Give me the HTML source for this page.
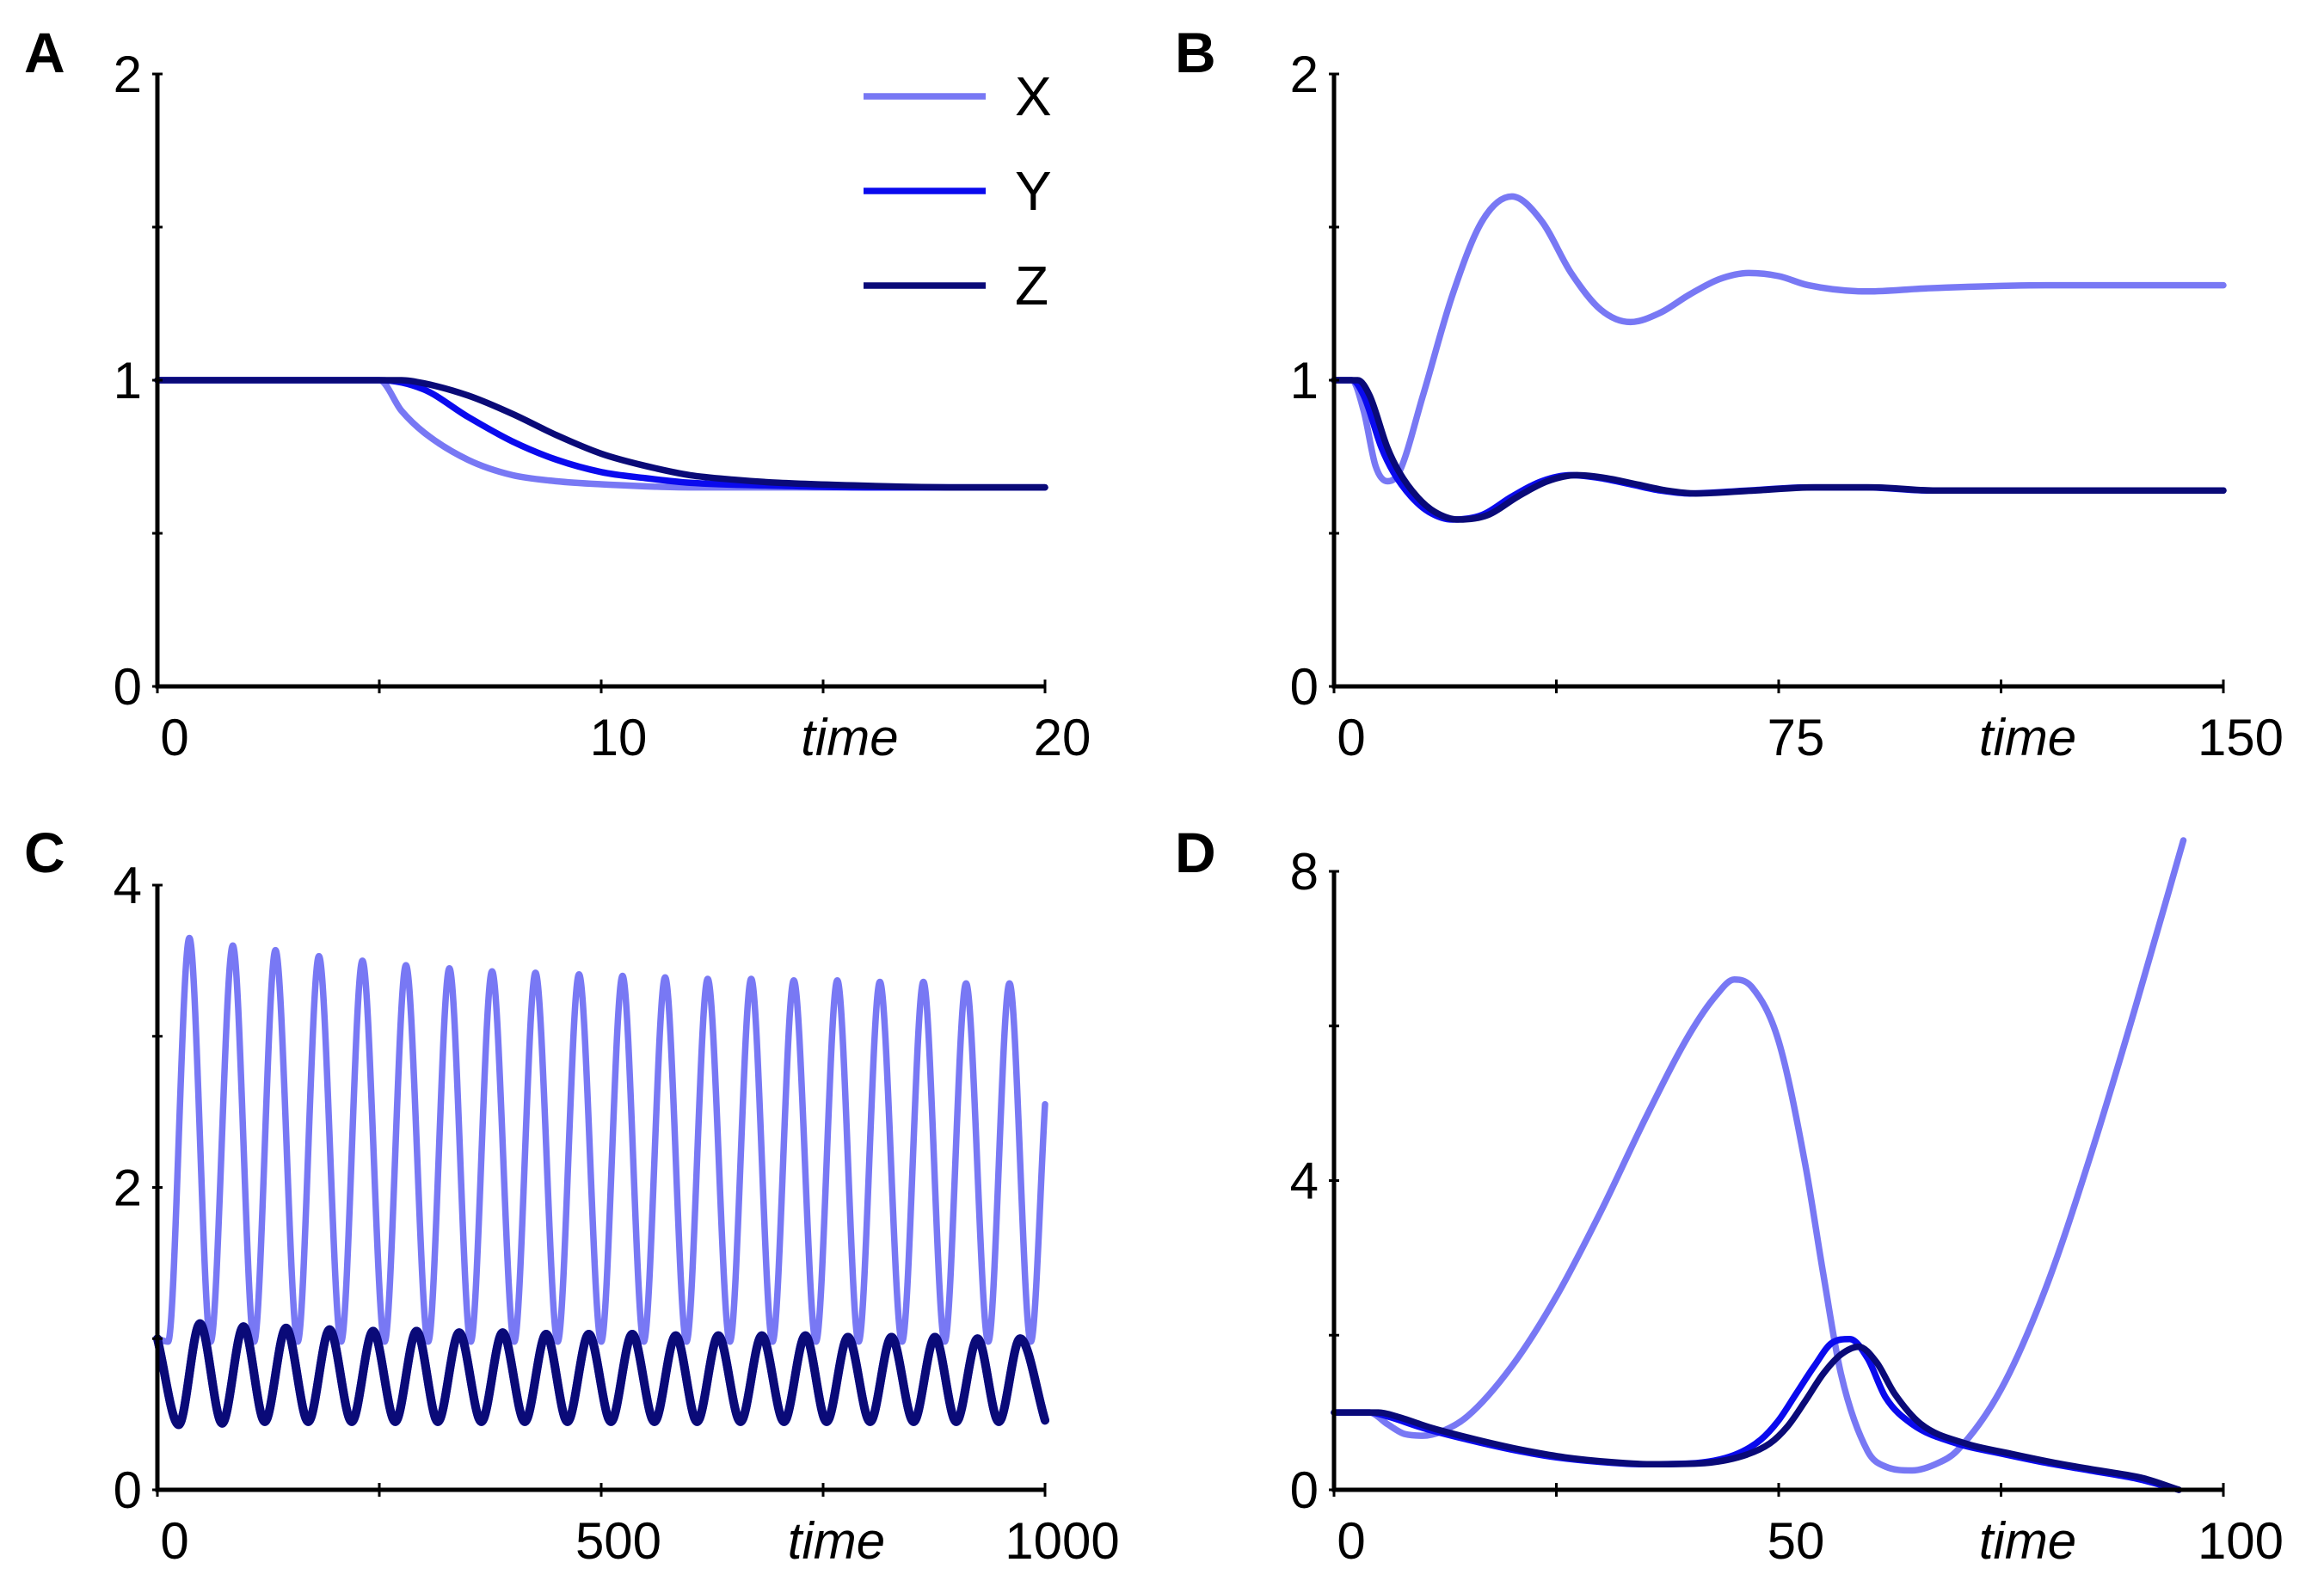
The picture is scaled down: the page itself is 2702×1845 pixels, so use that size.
<!DOCTYPE html>
<html><head><meta charset="utf-8"><style>
html,body{margin:0;padding:0;background:#fff}
svg{display:block}
text{font-family:"Liberation Sans",sans-serif;fill:#000}
</style></head><body>
<svg id="fig" width="2702" height="1845" viewBox="0 0 2702 1845" xmlns="http://www.w3.org/2000/svg"></svg>
<script>
// ---- Panel A data ----
const aXt=[0,5,5.5,6,7,8,9,10,12,15,20];
const aXv=[1,1,0.9,0.83,0.74,0.69,0.67,0.66,0.65,0.65,0.65];
const aYt=[0,5,6,7,8,9,10,11,12,14,16,20];
const aYv=[1,1,0.97,0.88,0.8,0.74,0.7,0.68,0.665,0.655,0.65,0.65];
const aZt=[0,5,5.5,6,7,8,9,10,11,12,13,14,16,18,20];
const aZv=[1,1,1,0.99,0.95,0.89,0.82,0.76,0.72,0.69,0.675,0.665,0.655,0.65,0.65];
// ---- Panel B data ----
const bXt=[0,3,5,7,9,11,15,20,25,30,35,40,45,50,55,60,65,70,75,80,90,100,120,150];
const bXv=[1,1,0.9,0.72,0.67,0.7,0.95,1.28,1.52,1.6,1.52,1.35,1.23,1.19,1.22,1.28,1.33,1.35,1.34,1.31,1.29,1.3,1.31,1.31];
const bYt=[0,3,5,8,10,13,16,20,25,30,35,40,45,50,55,60,70,80,90,100,150];
const bYv=[1,1,0.95,0.78,0.7,0.62,0.57,0.545,0.56,0.62,0.67,0.69,0.68,0.66,0.64,0.63,0.64,0.65,0.65,0.64,0.64];
const bZt=[0,4,6,9,11,14,17,21,26,31,36,41,46,51,56,61,71,81,91,101,150];
const bZv=[1,1,0.95,0.78,0.7,0.62,0.57,0.545,0.56,0.62,0.67,0.69,0.68,0.66,0.64,0.63,0.64,0.65,0.65,0.64,0.64];
// ---- Panel C data ----
const cXt=[0,12,36,60,85,109,133,158,182,207,231,256,280,305,329,353,377,402,426,451,475,500,524,548,572,596,620,645,669,693,717,742,766,790,814,839,863,887,911,936,960,984,1000];
const cXv=[1,0.98,3.65,0.98,3.6,0.98,3.57,0.98,3.53,0.98,3.5,0.98,3.47,0.98,3.45,0.98,3.43,0.98,3.42,0.98,3.41,0.98,3.4,0.98,3.39,0.98,3.38,0.98,3.38,0.98,3.37,0.98,3.37,0.98,3.36,0.98,3.36,0.98,3.35,0.98,3.35,0.98,2.55];
const cZt=[0,24,48,73,97,121,145,170,194,219,243,268,292,316,340,365,389,414,438,462,486,511,535,560,584,608,632,657,681,706,730,754,778,803,827,852,876,900,924,948,972,1000];
const cZv=[1,0.43,1.1,0.44,1.08,0.45,1.07,0.45,1.06,0.45,1.05,0.45,1.05,0.45,1.04,0.45,1.04,0.45,1.03,0.45,1.03,0.45,1.03,0.45,1.02,0.45,1.02,0.45,1.02,0.45,1.02,0.45,1.01,0.45,1.01,0.45,1.01,0.45,1.0,0.45,1.0,0.46];
// ---- Panel D data ----
const dXt=[0,4,6,8,10,12,15,20,25,30,35,40,43,45,47,50,53,55,57,60,62,65,68,70,75,80,85,90,95.5];
const dXv=[1,1,0.85,0.72,0.7,0.75,0.95,1.6,2.5,3.6,4.8,5.9,6.4,6.6,6.5,5.8,4.2,2.8,1.5,0.5,0.3,0.25,0.35,0.5,1.3,2.6,4.3,6.2,8.4];
const dYt=[0,4,6,10,15,20,25,30,35,40,45,48,50,52,54,56,58,60,62,65,70,75,80,85,90,95];
const dYv=[1,1,0.95,0.8,0.65,0.52,0.42,0.36,0.33,0.34,0.45,0.65,0.9,1.25,1.6,1.9,1.95,1.7,1.2,0.85,0.6,0.47,0.35,0.25,0.15,0];
const dZt=[0,5,7,11,16,21,26,31,36,41,46,49,51,53,55,57,59,61,63,66,71,76,81,86,91,95];
const dZv=[1,1,0.95,0.8,0.65,0.52,0.42,0.36,0.33,0.34,0.44,0.6,0.82,1.15,1.5,1.75,1.85,1.65,1.25,0.85,0.6,0.47,0.35,0.25,0.15,0];

const COL={X:'#7878f4',Y:'#0a0aee',Z:'#0a0a78'};
const svg=document.getElementById('fig');
const NS='http://www.w3.org/2000/svg';
function mk(tag,attrs,parent){const e=document.createElementNS(NS,tag);for(const k in attrs)e.setAttribute(k,attrs[k]);(parent||svg).appendChild(e);return e;}
// monotone cubic (Fritsch-Carlson) path through pixel points sorted by x
function smooth(p){
 const n=p.length,d=[],m=[];
 for(let i=0;i<n-1;i++)d.push((p[i+1][1]-p[i][1])/(p[i+1][0]-p[i][0]));
 m[0]=d[0];m[n-1]=d[n-2];
 for(let i=1;i<n-1;i++){m[i]=(d[i-1]*d[i]<=0)?0:(d[i-1]+d[i])/2;}
 for(let i=0;i<n-1;i++){if(d[i]===0){m[i]=0;m[i+1]=0;continue;}
  const a=m[i]/d[i],b=m[i+1]/d[i],s=a*a+b*b;if(s>9){const t=3/Math.sqrt(s);m[i]=t*a*d[i];m[i+1]=t*b*d[i];}}
 let s='M'+p[0][0].toFixed(1)+','+p[0][1].toFixed(1);
 for(let i=0;i<n-1;i++){const h=(p[i+1][0]-p[i][0])/3;
  s+=' C'+(p[i][0]+h).toFixed(1)+','+(p[i][1]+m[i]*h).toFixed(1)+' '+(p[i+1][0]-h).toFixed(1)+','+(p[i+1][1]-m[i+1]*h).toFixed(1)+' '+p[i+1][0].toFixed(1)+','+p[i+1][1].toFixed(1);}
 return s;}
function panel(cfg){
 const g=mk('g',{});
 
 
 const sx=t=>cfg.x0+(t-cfg.xmin)/(cfg.xmax-cfg.xmin)*(cfg.x1-cfg.x0);
 const sy=v=>cfg.y0+(v-cfg.ymin)/(cfg.ymax-cfg.ymin)*(cfg.y1-cfg.y0);
 cfg.series.forEach(s=>{
  const pts=s.t.map((t,i)=>[sx(t),sy(s.v[i])]);
  const p=mk('path',{d:smooth(pts),fill:'none',stroke:COL[s.name],'stroke-width':s.w||7.5,'stroke-linejoin':'round','stroke-linecap':'round'},g);
  
  
 });
 const ax=mk('path',{d:`M${cfg.x0},${cfg.y1} V${cfg.y0} H${cfg.x1}`,fill:'none',stroke:'#000','stroke-width':5},g);
 
 
 cfg.yticks.forEach(v=>{const l=mk('line',{x1:cfg.x0-6,x2:cfg.x0+6,y1:sy(v),y2:sy(v),stroke:'#000','stroke-width':3},g);
  
  });
 cfg.xticks.forEach(t=>{const l=mk('line',{x1:sx(t),x2:sx(t),y1:cfg.y0-8,y2:cfg.y0+8,stroke:'#000','stroke-width':3},g);
  
  });
 cfg.ylabels.forEach(v=>{const t=mk('text',{x:cfg.x0-18,y:sy(v)+21,'text-anchor':'end','font-size':60},g);t.textContent=v;
  
  });
 cfg.xlabels.forEach(v=>{const t=mk('text',{x:sx(v)+20,y:cfg.y0+80,'text-anchor':'middle','font-size':60},g);t.textContent=v;
  
  });
 const tt=mk('text',{x:sx(cfg.timeAt),y:cfg.y0+80,'text-anchor':'middle','font-size':60,'font-style':'italic'},g);tt.textContent='time';
 
 
 const L=mk('text',{x:cfg.lx,y:cfg.ly,'font-size':66,'font-weight':'bold'},g);L.textContent=cfg.id;
 
 
}
panel({id:'A',x0:183,x1:1215,y0:798,y1:86,xmin:0,xmax:20,ymin:0,ymax:2,xticks:[0,5,10,15,20],yticks:[0,0.5,1,1.5,2],ylabels:[0,1,2],xlabels:[0,10,20],timeAt:15.6,lx:28,ly:84,
 series:[{name:'X',t:aXt,v:aXv},{name:'Y',t:aYt,v:aYv},{name:'Z',t:aZt,v:aZv}]});
panel({id:'B',x0:1551,x1:2585,y0:798,y1:86,xmin:0,xmax:150,ymin:0,ymax:2,xticks:[0,37.5,75,112.5,150],yticks:[0,0.5,1,1.5,2],ylabels:[0,1,2],xlabels:[0,75,150],timeAt:117,lx:1366,ly:84,
 series:[{name:'X',t:bXt,v:bXv},{name:'Y',t:bYt,v:bYv},{name:'Z',t:bZt,v:bZv}]});
panel({id:'C',x0:183,x1:1215,y0:1732,y1:1029,xmin:0,xmax:1000,ymin:0,ymax:4,xticks:[0,250,500,750,1000],yticks:[0,1,2,3,4],ylabels:[0,2,4],xlabels:[0,500,1000],timeAt:765,lx:28,ly:1014,
 series:[{name:'X',t:cXt,v:cXv},{name:'Y',t:cZt,v:cZv,w:10},{name:'Z',t:cZt,v:cZv,w:10}]});
panel({id:'D',x0:1551,x1:2585,y0:1732,y1:1013,xmin:0,xmax:100,ymin:0,ymax:8,xticks:[0,25,50,75,100],yticks:[0,2,4,6,8],ylabels:[0,4,8],xlabels:[0,50,100],timeAt:78,lx:1366,ly:1014,
 series:[{name:'X',t:dXt,v:dXv},{name:'Y',t:dYt,v:dYv},{name:'Z',t:dZt,v:dZv}]});
const legNames=['X','Y','Z'];
legNames.forEach((n,i)=>{
 const y=112+i*110;
 const l=mk('line',{x1:1004,x2:1146,y1:y,y2:y,stroke:COL[n],'stroke-width':7.5});
 
 
 const t=mk('text',{x:1180,y:y+22,'font-size':64});t.textContent=n;
 
 
});
</script>
</body></html>
